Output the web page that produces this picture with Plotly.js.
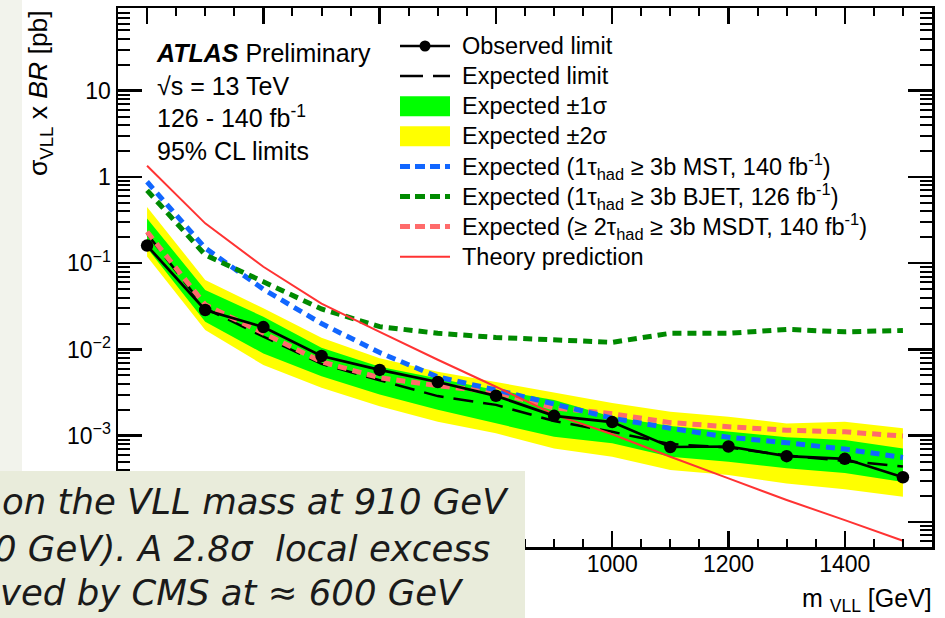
<!DOCTYPE html>
<html><head><meta charset="utf-8">
<script src="https://cdn.plot.ly/plotly-3.0.1.min.js"></script>
<style>html,body{margin:0;padding:0;background:#fff}#chart{width:945px;height:618px}</style>
</head><body><div id="chart"></div>
<script>
// ---- data ----
const massGeV = [200,300,400,500,600,700,800,900,1000,1100,1200,1300,1400,1500];
const observedLimit = [0.16,0.0287,0.0182,0.0084,0.0058,0.0042,0.0029,0.00170,0.00144,0.00074,0.00075,0.00058,0.00054,0.00033];
const expectedLimit = [0.22,0.030,0.0141,0.0068,0.0044,0.00288,0.00228,0.00148,0.00111,0.00080,0.00073,0.00059,0.00051,0.00044];
const exp1sUp = [0.33,0.049,0.024,0.0105,0.0063,0.0046,0.0034,0.0026,0.00166,0.00130,0.00111,0.00096,0.00089,0.00071];
const exp1sDn = [0.15,0.021,0.0090,0.0049,0.0030,0.0020,0.00139,0.00097,0.00082,0.00057,0.00050,0.00042,0.00037,0.00029];
const exp2sUp = [0.45,0.064,0.030,0.0137,0.0079,0.0055,0.0042,0.0032,0.0024,0.0019,0.00166,0.00139,0.00145,0.00122];
const exp2sDn = [0.12,0.0168,0.0066,0.0036,0.0022,0.00145,0.00107,0.00071,0.00057,0.00040,0.00035,0.00028,0.00024,0.000196];
const expMST = [0.88,0.15,0.050,0.020,0.0092,0.0048,0.0034,0.0023,0.0016,0.00122,0.00096,0.00083,0.00070,0.00056];
const expBJET = [0.70,0.125,0.061,0.0295,0.0184,0.0154,0.0138,0.0130,0.0121,0.0154,0.0154,0.0171,0.0160,0.0166];
const expMSDT = [0.232,0.033,0.0155,0.0072,0.0047,0.0038,0.0032,0.0021,0.0018,0.00142,0.00127,0.00116,0.00111,0.00099];
const theoryXsec = [1.35,0.29,0.091,0.034,0.016,0.0076,0.0037,0.00177,0.00104,0.00057,0.00032,0.00018,0.000105,0.0000607];

// tick values / labels (labels hidden under the slide text box are left blank)
const xTickVals = [200,400,600,800,1000,1200,1400];
const xTickText = ['','','','','1000','1200','1400'];
const yTickVals = [1e-4,1e-3,1e-2,1e-1,1,10];
const yTickText = ['','10<sup>−3</sup>','10<sup>−2</sup>','10<sup>−1</sup>','1','10'];

const legendLabels = [
  'Observed limit',
  'Expected limit',
  'Expected ±1σ',
  'Expected ±2σ',
  'Expected (1τ<sub>had</sub> ≥ 3b MST, 140 fb<sup>-1</sup>)',
  'Expected (1τ<sub>had</sub> ≥ 3b BJET, 126 fb<sup>-1</sup>)',
  'Expected (≥ 2τ<sub>had</sub> ≥ 3b MSDT, 140 fb<sup>-1</sup>)',
  'Theory prediction'
];
const infoLines = ['<b><i>ATLAS</i></b> Preliminary','√s = 13 TeV','126 - 140 fb<sup>-1</sup>','95% CL limits'];
const slideLines = ['on the VLL mass at 910 GeV','0 GeV). A 2.8σ  local excess','ved by CMS at ≈ 600 GeV'];

// ---- layout helpers ----
const W = 945, H = 618, M = {l:118, r:13, t:8, b:71};
const PW = W - M.l - M.r, PH = H - M.t - M.b;
const px = v => (v - M.l) / PW;
const py = v => 1 - (v - M.t) / PH;
const FONT = 'Liberation Sans, Arial, Helvetica, sans-serif';

const C = {yellow:'#ffff00', green:'#00ff00', blue:'#1166ff', dkgreen:'#008a00', pink:'#ff6b6b', red:'#ff3333'};

function band(up, dn, color){
  return {x: massGeV.concat(massGeV.slice().reverse()), y: up.concat(dn.slice().reverse()),
    mode:'lines', fill:'toself', fillcolor:color, line:{width:0, color:color}, hoverinfo:'skip', showlegend:false};
}
function line(y, color, width, dash){
  return {x: massGeV, y: y, mode:'lines', line:{color:color, width:width, dash:dash||'solid'}, hoverinfo:'skip', showlegend:false};
}
const traces = [
  band(exp2sUp, exp2sDn, C.yellow),
  band(exp1sUp, exp1sDn, C.green),
  line(expectedLimit, '#000', 2.5, '20px,10px'),
  line(expMSDT, C.pink, 5, '9px,6px'),
  line(expMST, C.blue, 5, '9px,6px'),
  line(expBJET, C.dkgreen, 5, '9px,6px'),
  line(theoryXsec, C.red, 2),
  {x: massGeV, y: observedLimit, mode:'lines+markers', line:{color:'#000', width:2.7},
   marker:{color:'#000', size:12.5}, hoverinfo:'skip', showlegend:false}
];

// ---- manual legend ----
const shapes = [];
const annotations = [];
const lgX0 = 400, lgX1 = 450, lgTx = 460;
const rowY = i => 46 + 30.1 * i;
function lshape(i, color, width, dash){
  shapes.push({type:'line', xref:'paper', yref:'paper', x0:px(lgX0), x1:px(lgX1), y0:py(rowY(i)), y1:py(rowY(i)),
    line:{color:color, width:width, dash:dash||'solid'}});
}
lshape(0, '#000', 2.5);
shapes.push({type:'circle', xref:'paper', yref:'paper', xsizemode:'pixel', ysizemode:'pixel',
  xanchor:px(425), yanchor:py(rowY(0)), x0:-5.5, x1:5.5, y0:-5.5, y1:5.5, fillcolor:'#000', line:{width:0}});
lshape(1, '#000', 2.5, '23px,10px');
shapes.push({type:'rect', xref:'paper', yref:'paper', x0:px(lgX0), x1:px(lgX1), y0:py(rowY(2)-10), y1:py(rowY(2)+10), fillcolor:C.green, line:{width:0}});
shapes.push({type:'rect', xref:'paper', yref:'paper', x0:px(lgX0), x1:px(lgX1), y0:py(rowY(3)-10), y1:py(rowY(3)+10), fillcolor:C.yellow, line:{width:0}});
lshape(4, C.blue, 5, '10px,5px');
lshape(5, C.dkgreen, 5, '10px,5px');
lshape(6, C.pink, 5, '10px,5px');
lshape(7, C.red, 2);
legendLabels.forEach((t, i) => annotations.push({text:t, xref:'paper', yref:'paper', x:px(lgTx), y:py(rowY(i)),
  xanchor:'left', yanchor:'middle', showarrow:false, font:{family:FONT, size:23.5, color:'#000'}}));

// ---- info text ----
annotations.push({text: infoLines.join('<br>'), xref:'paper', yref:'paper', x:px(154), y:py(37), xanchor:'left', yanchor:'top',
  align:'left', showarrow:false, font:{family:FONT, size:25, color:'#000'}});

// ---- axis titles ----
annotations.push({text:'σ<sub>VLL</sub> x <i>BR</i> [pb]', textangle:-90, xref:'paper', yref:'paper', x:px(40), y:py(8),
  xanchor:'center', yanchor:'top', showarrow:false, font:{family:FONT, size:26.5, color:'#000'}});
annotations.push({text:'m <sub>VLL</sub> [GeV]', xref:'paper', yref:'paper', x:px(934), y:py(600),
  xanchor:'right', yanchor:'middle', showarrow:false, font:{family:FONT, size:25, color:'#000'}});

// ---- slide overlay (left strip + text box) ----
shapes.push({type:'rect', xref:'paper', yref:'paper', x0:px(0), x1:px(22), y0:py(0), y1:py(471), fillcolor:'#f2f3ec', line:{width:0}, layer:'below'});
shapes.push({type:'rect', xref:'paper', yref:'paper', x0:px(0), x1:px(525), y0:py(471), y1:py(620), fillcolor:'#e9ecdb', line:{width:0}, layer:'above'});
const slideX = [0, -8, -2], slideY = [501, 548, 592];
slideLines.forEach((t, i) => annotations.push({text:'<i>'+t+'</i>', xref:'paper', yref:'paper', x:px(slideX[i]), y:py(slideY[i]),
  xanchor:'left', yanchor:'middle', showarrow:false, font:{family:'DejaVu Sans, sans-serif', size:35.5, color:'#1a1a1a'}}));

const axisCommon = {showline:true, linecolor:'#000', linewidth:2.5, mirror:'allticks', ticks:'inside', tickcolor:'#000',
  tickwidth:2.5, showgrid:false, zeroline:false, tickfont:{family:FONT, size:23, color:'#000'}};

const layout = {
  width:W, height:H, margin:M, paper_bgcolor:'#fff', plot_bgcolor:'#fff', showlegend:false,
  xaxis: Object.assign({}, axisCommon, {range:[150,1550], tickmode:'array', tickvals:xTickVals, ticktext:xTickText,
    ticklen:16, ticklabelstandoff:-5,
    minor:{ticks:'inside', ticklen:8, tick0:200, dtick:50, tickwidth:2, tickcolor:'#000', showgrid:false}}),
  yaxis: Object.assign({}, axisCommon, {type:'log', range:[-4.29,1.959], tickmode:'array', tickvals:yTickVals, ticktext:yTickText,
    ticklen:24,
    minor:{ticks:'inside', ticklen:12, dtick:'D1', tickwidth:2, tickcolor:'#000', showgrid:false}}),
  shapes: shapes, annotations: annotations
};
Plotly.newPlot('chart', traces, layout, {staticPlot:true, displayModeBar:false});
</script></body></html>
